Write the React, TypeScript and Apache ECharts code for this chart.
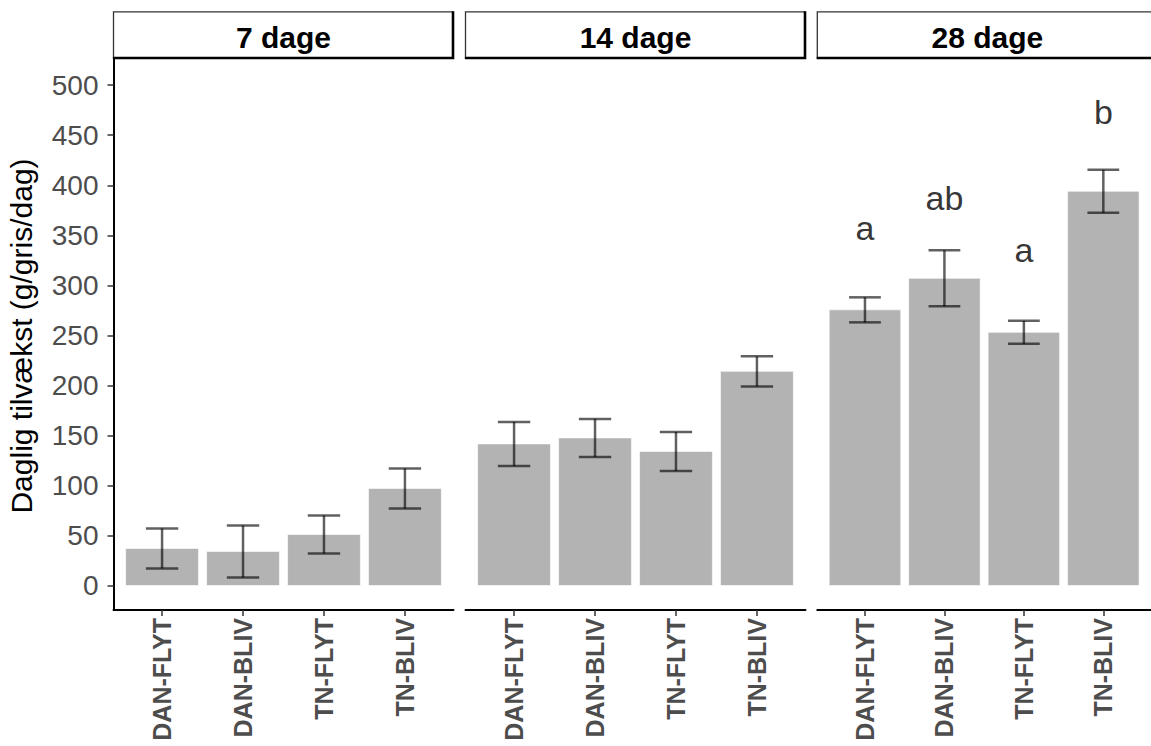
import React, { useEffect, useRef } from "react";
import * as echarts from "echarts";

const categories = ["DAN-FLYT", "DAN-BLIV", "TN-FLYT", "TN-BLIV"];
const panelTitles = ["7 dage", "14 dage", "28 dage"];
const means7 = [37, 34, 51, 97];
const se7 = [20, 26, 19, 20];
const means14 = [141.5, 147.5, 134, 214];
const se14 = [22, 19, 19.5, 15];
const means28 = [275.5, 307, 253, 394];
const se28 = [12.5, 28, 11.5, 21.5];
const letters28 = ["a", "ab", "a", "b"];
const letterY28 = [357, 387, 335, 473];
const yTicks = [0, 50, 100, 150, 200, 250, 300, 350, 400, 450, 500];
const yTitle = "Daglig tilvækst (g/gris/dag)";

const FONT = "'Liberation Sans', Arial, sans-serif";

export default function App() {
  const ref = useRef<HTMLDivElement>(null);

  useEffect(() => {
    if (!ref.current) return;
    const chart = echarts.init(ref.current, null, { renderer: "svg" });

    const panelMeans = [means7, means14, means28];
    const panelSe = [se7, se14, se28];
    const lefts = [113.5, 465.5, 817.3];
    const W = 340;
    const TOP = 58;
    const H = 552;
    const positions = [1, 2, 3, 4];

    const grids = lefts.map((l) => ({ left: l, top: TOP, width: W, height: H }));

    const xAxes = lefts.map((_, i) => ({
      type: "value",
      gridIndex: i,
      min: 0.4,
      max: 4.6,
      splitLine: { show: false },
      axisLine: { show: true, onZero: false, lineStyle: { color: "#000", width: 2 } },
      axisTick: {
        show: true,
        customValues: positions,
        length: 6,
        lineStyle: { color: "#333", width: 1.5 },
      },
      axisLabel: {
        show: true,
        customValues: positions,
        rotate: 90,
        margin: 8,
        fontSize: 25,
        fontWeight: "bold",
        fontFamily: FONT,
        color: "#4d4d4d",
        formatter: (v: number) => categories[Math.round(v) - 1] ?? "",
      },
    }));

    const yAxes = lefts.map((_, i) => ({
      type: "value",
      gridIndex: i,
      min: -24.5,
      max: 527.2,
      show: i === 0,
      splitLine: { show: false },
      axisLine: { show: i === 0, onZero: false, lineStyle: { color: "#000", width: 2 } },
      axisTick: {
        show: i === 0,
        customValues: yTicks,
        length: 6,
        lineStyle: { color: "#333", width: 1.5 },
      },
      axisLabel: {
        show: i === 0,
        customValues: yTicks,
        margin: 15,
        fontSize: 28,
        fontFamily: FONT,
        color: "#4d4d4d",
        padding: [5, 0, 0, 0],
      },
    }));

    const series: any[] = [];
    panelMeans.forEach((means, i) => {
      const data = means.map((m, k) => [positions[k], m, panelSe[i][k]]);
      series.push({
        type: "custom",
        xAxisIndex: i,
        yAxisIndex: i,
        data,
        encode: { x: 0, y: 1 },
        renderItem: (_p: any, api: any) => {
          const x = api.value(0);
          const v = api.value(1);
          const p1 = api.coord([x - 0.45, v]);
          const p2 = api.coord([x + 0.45, 0]);
          return {
            type: "rect",
            shape: { x: p1[0], y: p1[1], width: p2[0] - p1[0], height: p2[1] - p1[1] },
            style: { fill: "#b3b3b3", stroke: "#ffffff", lineWidth: 0.6 },
          };
        },
      });
      series.push({
        type: "custom",
        xAxisIndex: i,
        yAxisIndex: i,
        data,
        encode: { x: 0, y: 1 },
        renderItem: (_p: any, api: any) => {
          const x = api.value(0);
          const m = api.value(1);
          const s = api.value(2);
          const top = api.coord([x, m + s]);
          const bot = api.coord([x, m - s]);
          const tl = api.coord([x - 0.2, m + s]);
          const tr = api.coord([x + 0.2, m + s]);
          const bl = api.coord([x - 0.2, m - s]);
          const br = api.coord([x + 0.2, m - s]);
          const st = { stroke: "rgba(0,0,0,0.62)", lineWidth: 2.5 };
          return {
            type: "group",
            children: [
              { type: "line", shape: { x1: top[0], y1: top[1], x2: bot[0], y2: bot[1] }, style: st },
              { type: "line", shape: { x1: tl[0], y1: tl[1], x2: tr[0], y2: tr[1] }, style: st },
              { type: "line", shape: { x1: bl[0], y1: bl[1], x2: br[0], y2: br[1] }, style: st },
            ],
          };
        },
      });
    });

    series.push({
      type: "scatter",
      xAxisIndex: 2,
      yAxisIndex: 2,
      symbolSize: 0,
      data: letterY28.map((y, k) => [positions[k], y]),
      label: {
        show: true,
        position: "inside",
        fontSize: 34,
        fontFamily: FONT,
        color: "#000",
        formatter: (p: any) => letters28[p.dataIndex],
      },
    });

    const stripTop = 11.8;
    const stripBottom = 58;
    const graphics: any[] = [];
    lefts.forEach((l, i) => {
      const r = l + W - 0.5;
      graphics.push({
        type: "rect",
        shape: { x: l, y: stripTop, width: r - l, height: stripBottom - stripTop },
        style: { fill: "#fff", stroke: "#333", lineWidth: 1.3 },
        z: 10,
      });
      graphics.push({
        type: "polyline",
        shape: { points: [[r, stripTop - 0.6], [r, stripBottom], [l - 0.6, stripBottom]] },
        style: { stroke: "#000", lineWidth: 2.6, fill: null },
        z: 11,
      });
      graphics.push({
        type: "text",
        x: l + W / 2,
        y: 37.5,
        z: 12,
        style: {
          text: panelTitles[i],
          fontSize: 30,
          fontWeight: "bold",
          fontFamily: FONT,
          fill: "#000",
          align: "center",
          verticalAlign: "middle",
        },
      });
    });
    graphics.push({
      type: "text",
      x: 21.5,
      y: 336,
      rotation: Math.PI / 2,
      style: {
        text: yTitle,
        fontSize: 30,
        fontFamily: FONT,
        fill: "#000",
        align: "center",
        verticalAlign: "middle",
      },
    });

    chart.setOption({
      animation: false,
      backgroundColor: "#fff",
      grid: grids,
      xAxis: xAxes,
      yAxis: yAxes,
      series,
      graphic: graphics,
    });

    return () => chart.dispose();
  }, []);

  return (
    <div
      ref={ref}
      style={{ position: "absolute", left: 0, top: 0, width: 1151, height: 746 }}
    />
  );
}
